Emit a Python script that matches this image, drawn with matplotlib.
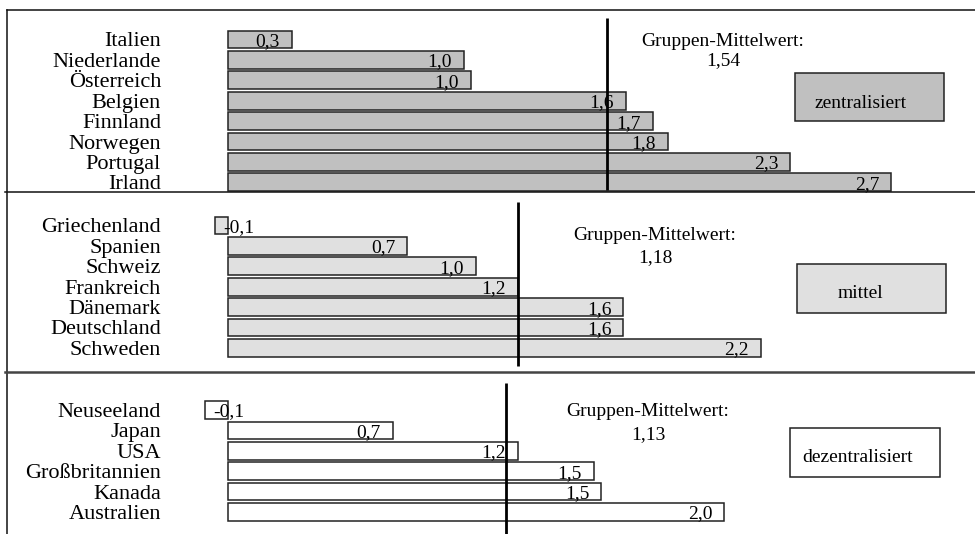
import matplotlib
matplotlib.use("Agg")
import matplotlib.pyplot as plt
from matplotlib.lines import Line2D
from matplotlib.patches import Rectangle

plt.rcParams["font.family"] = ["Liberation Serif", "DejaVu Serif"]

# --- data -------------------------------------------------------------
central_countries = ["Italien", "Niederlande", "Österreich", "Belgien",
                     "Finnland", "Norwegen", "Portugal", "Irland"]
central_values = [0.26, 0.96, 0.99, 1.62, 1.73, 1.79, 2.29, 2.70]

middle_countries = ["Griechenland", "Spanien", "Schweiz", "Frankreich",
                    "Dänemark", "Deutschland", "Schweden"]
middle_values = [-0.053, 0.73, 1.01, 1.18, 1.61, 1.61, 2.17]

decentral_countries = ["Neuseeland", "Japan", "USA", "Großbritannien",
                       "Kanada", "Australien"]
decentral_values = [-0.094, 0.67, 1.18, 1.49, 1.52, 2.02]

group_names = ["zentralisiert", "mittel", "dezentralisiert"]
mean_caption = "Gruppen-Mittelwert:"

# --- layout (pixels) --------------------------------------------------
W, H = 975, 534
DPI = 100
ZERO_PX = 228.0
PX_PER_UNIT = 245.6
AX_LEFT = 168.0
PITCH = 20.4
BAR_H = 0.87

fig = plt.figure(figsize=(W / DPI, H / DPI), dpi=DPI)
fig.patch.set_facecolor("white")


def fx(px):
    return px / W


def fy(py):
    return 1.0 - py / H


def comma(v, nd=1):
    return f"{v:.{nd}f}".replace(".", ",")


groups = [
    dict(names=central_countries, values=central_values, color="#c0c0c0",
         top=10, bottom=192, first=39.5, line=(18, 190),
         cap=(723, 41), capval=(723, 61),
         box=(795, 73, 944, 121), boxtext=(861, 103)),
    dict(names=middle_countries, values=middle_values, color="#e0e0e0",
         top=192, bottom=372, first=225.5, line=(202, 366),
         cap=(655, 235), capval=(655, 258),
         box=(797, 264, 946, 313), boxtext=(860, 294)),
    dict(names=decentral_countries, values=decentral_values, color="#ffffff",
         top=372, bottom=534, first=410, line=(383, 534),
         cap=(648, 412), capval=(648, 435),
         box=(790, 428, 940, 477), boxtext=(858, 458)),
]

for g, gname in zip(groups, group_names):
    ax = fig.add_axes([fx(AX_LEFT), fy(g["bottom"]),
                       (W - AX_LEFT) / W, (g["bottom"] - g["top"]) / H])
    ax.set_xlim((AX_LEFT - ZERO_PX) / PX_PER_UNIT, (W - ZERO_PX) / PX_PER_UNIT)
    ax.set_ylim((g["bottom"] - g["first"]) / PITCH, (g["top"] - g["first"]) / PITCH)
    ax.set_frame_on(False)
    ax.set_xticks([])

    n = len(g["names"])
    ys = list(range(n))
    ax.barh(ys, g["values"], height=BAR_H, color=g["color"],
            edgecolor="#222222", linewidth=1.1, zorder=2)
    ax.set_yticks(ys, g["names"], fontsize=16)
    ax.tick_params(axis="y", length=0, pad=5)
    for lab in ax.get_yticklabels():
        lab.set_verticalalignment("center_baseline")

    for y, v in zip(ys, g["values"]):
        if v >= 0:
            ax.annotate(comma(v), (v, y), xytext=(-8.6, -1.5),
                        textcoords="offset points", ha="right",
                        va="center", fontsize=14, zorder=4)
        else:
            ax.annotate(comma(v), (v, y), xytext=(6, -1.5),
                        textcoords="offset points", ha="left",
                        va="center", fontsize=14, zorder=4)

    mean = sum(g["values"]) / n
    l0, l1 = g["line"]
    ax.plot([mean, mean],
            [(l0 - g["first"]) / PITCH, (l1 - g["first"]) / PITCH],
            color="black", lw=2.0, zorder=5, clip_on=False,
            solid_capstyle="butt")

    fig.text(fx(g["cap"][0]), fy(g["cap"][1]), mean_caption, fontsize=14,
             ha="center", va="center")
    fig.text(fx(g["capval"][0]), fy(g["capval"][1]), comma(mean, 2),
             fontsize=14, ha="center", va="center")

    x0, y0, x1, y1 = g["box"]
    fig.add_artist(Rectangle((fx(x0), fy(y1)), (x1 - x0) / W, (y1 - y0) / H,
                             transform=fig.transFigure, facecolor=g["color"],
                             edgecolor="#222222", linewidth=1.1))
    fig.text(fx(g["boxtext"][0]), fy(g["boxtext"][1]), gname, fontsize=14,
             ha="center", va="center")

# frame and separators
frame_lines = [
    ((7, 10), (975, 10), 1.1, "#111111"),
    ((7, 10), (7, 534), 1.1, "#111111"),
    ((5, 191.5), (975, 191.5), 1.1, "#111111"),
    ((5, 372), (975, 372), 1.8, "#444444"),
]
for (xa, ya), (xb, yb), lw, col in frame_lines:
    fig.add_artist(Line2D([fx(xa), fx(xb)], [fy(ya), fy(yb)],
                          transform=fig.transFigure, color=col, lw=lw))

fig.savefig("out.png", dpi=DPI)
